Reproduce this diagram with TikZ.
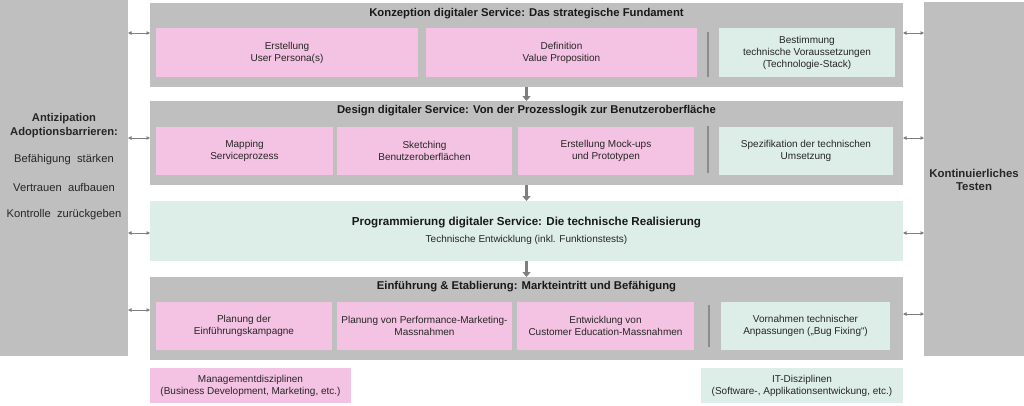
\documentclass[tikz,border=0pt]{standalone}
\usepackage{fontspec}
\setmainfont{Liberation Sans}
\usetikzlibrary{arrows.meta}
\definecolor{panelgray}{HTML}{BFBFBF}
\definecolor{pinkbox}{HTML}{F4C2E2}
\definecolor{greenbox}{HTML}{DDEDE7}
\definecolor{arrowgray}{HTML}{7F7F7F}
\definecolor{sepgray}{HTML}{8C8C8C}
\begin{document}
\begin{tikzpicture}[x=1pt,y=-1pt,
  area/.style={draw=none,inner sep=0pt,outer sep=0pt,anchor=north west},
  bodytext/.style={font=\fontsize{10}{12}\selectfont,align=center,text=black!85},
  titletext/.style={font=\bfseries\fontsize{11.3}{12}\selectfont,text=black!90},
  sidetext/.style={font=\fontsize{11.2}{13}\selectfont,align=center,text=black!85},
  dbl/.style={arrowgray,line width=0.9pt,{Triangle[length=3.5pt,width=3.5pt]}-{Triangle[length=3.5pt,width=3.5pt]}},
  down/.style={arrowgray,line width=2.6pt,-{Triangle[length=5pt,width=8pt]}},
  sepline/.style={sepgray,line width=1.2pt}]
\useasboundingbox (0,0) rectangle (1024,405);
\fill[white] (0,0) rectangle (1024,405);

% side panels
\node[area,fill=panelgray,minimum width=128,minimum height=356] (lp) at (0,0) {};
\node[area,fill=panelgray,minimum width=100,minimum height=354] (rp) at (924,2) {};
\node[sidetext,font=\bfseries\fontsize{11.2}{14}\selectfont] (lpt) at (64,126) {Antizipation\\Adoptionsbarrieren:};
\node[sidetext] (lpa) at (64,160) {Befähigung\ \ stärken};
\node[sidetext] (lpb) at (64,187) {Vertrauen\ \ aufbauen};
\node[sidetext] (lpc) at (64,215) {Kontrolle\ \ zurückgeben};
\node[sidetext,font=\bfseries\fontsize{11.4}{13}\selectfont] (rpt) at (974,180) {Kontinuierliches\\Testen};

% main boxes
\node[area,fill=panelgray,minimum width=753,minimum height=84] (b1) at (150,3) {};
\node[area,fill=panelgray,minimum width=753,minimum height=84] (b2) at (150,101) {};
\node[area,fill=greenbox,minimum width=753,minimum height=60] (b3) at (150,201) {};
\node[area,fill=panelgray,minimum width=753,minimum height=83] (b4) at (150,277) {};

% titles
\node[titletext] (t1) at (526.5,14) {Konzeption digitaler Service: Das strategische Fundament};
\node[titletext] (t2) at (526.5,111) {Design digitaler Service: Von der Prozesslogik zur Benutzeroberfläche};
\node[titletext,font=\bfseries\fontsize{11.6}{12}\selectfont] (t3) at (526.5,223) {Programmierung digitaler Service: Die technische Realisierung};
\node[bodytext] (s3) at (526.5,240) {Technische Entwicklung (inkl. Funktionstests)};
\node[titletext] (t4) at (526.5,287) {Einführung \& Etablierung: Markteintritt und Befähigung};

% row 1
\node[area,fill=pinkbox,minimum width=262,minimum height=49] (p11) at (156,28) {};
\node[bodytext] at (p11.center) {Erstellung\\User Persona(s)};
\node[area,fill=pinkbox,minimum width=271,minimum height=49] (p12) at (426,28) {};
\node[bodytext] at (p12.center) {Definition\\Value Proposition};
\draw[sepline] (708,32) -- (708,77);
\node[area,fill=greenbox,minimum width=176,minimum height=49] (g1) at (719,28) {};
\node[bodytext] at (g1.center) {Bestimmung\\technische Voraussetzungen\\(Technologie-Stack)};

% row 2
\node[area,fill=pinkbox,minimum width=177,minimum height=48] (p21) at (156,127) {};
\node[bodytext] at (p21.center) {Mapping\\Serviceprozess};
\node[area,fill=pinkbox,minimum width=175,minimum height=48] (p22) at (337,127) {};
\node[bodytext] at (p22.center) {Sketching\\Benutzeroberflächen};
\node[area,fill=pinkbox,minimum width=176,minimum height=48] (p23) at (518,127) {};
\node[bodytext] at (p23.center) {Erstellung Mock-ups\\und Prototypen};
\draw[sepline] (708,126) -- (708,173);
\node[area,fill=greenbox,minimum width=174,minimum height=48] (g2) at (719,127) {};
\node[bodytext] at (g2.center) {Spezifikation der technischen\\Umsetzung};

% row 4
\node[area,fill=pinkbox,minimum width=176,minimum height=48] (p41) at (156,302) {};
\node[bodytext] at (p41.center) {Planung der\\Einführungskampagne};
\node[area,fill=pinkbox,minimum width=175,minimum height=48] (p42) at (337,302) {};
\node[bodytext] at (p42.center) {Planung von Performance-Marketing-\\Massnahmen};
\node[area,fill=pinkbox,minimum width=177,minimum height=48] (p43) at (517,302) {};
\node[bodytext] at (p43.center) {Entwicklung von\\Customer Education-Massnahmen};
\draw[sepline] (709,305) -- (709,347);
\node[area,fill=greenbox,minimum width=169,minimum height=48] (g4) at (721,302) {};
\node[bodytext] at (g4.center) {Vornahmen technischer\\Anpassungen („Bug Fixing“)};

% legend
\node[area,fill=pinkbox,minimum width=201,minimum height=35] (lm) at (150,368) {};
\node[bodytext] at (lm.center) {Managementdisziplinen\\(Business Development, Marketing, etc.)};
\node[area,fill=greenbox,minimum width=202,minimum height=35] (li) at (701,368) {};
\node[bodytext] at (li.center) {IT-Disziplinen\\(Software-, Applikationsentwickung, etc.)};

% down arrows
\draw[down] (b1.south) -- (b2.north);
\draw[down] (b2.south) -- (b3.north);
\draw[down] (b3.south) -- (b4.north);

% double arrows
\coordinate (k1) at (0,33);
\coordinate (k2) at (0,138);
\coordinate (k3) at (0,233);
\coordinate (k4) at (0,310);
\coordinate (m4) at (0,314);
\draw[dbl] (lp.east |- k1) -- (b1.west |- k1);
\draw[dbl] (lp.east |- k2) -- (b2.west |- k2);
\draw[dbl] (lp.east |- k3) -- (b3.west |- k3);
\draw[dbl] (lp.east |- k4) -- (b4.west |- k4);
\draw[dbl] (b1.east |- k1) -- (rp.west |- k1);
\draw[dbl] (b2.east |- k2) -- (rp.west |- k2);
\draw[dbl] (b3.east |- k3) -- (rp.west |- k3);
\draw[dbl] (b4.east |- m4) -- (rp.west |- m4);
\end{tikzpicture}
\end{document}
